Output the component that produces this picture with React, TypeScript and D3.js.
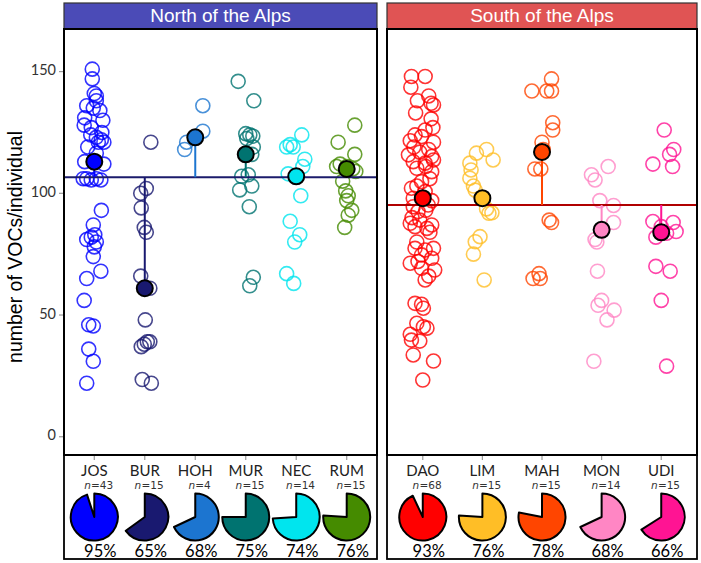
import React from 'react';
import * as d3 from 'd3';

// categories, colours and summary values
const northCats = ['JOS', 'BUR', 'HOH', 'MUR', 'NEC', 'RUM'];
const northColors = ['#0000FF', '#191970', '#1C75D0', '#007370', '#00E5EE', '#458B00'];
const northN = [43, 15, 4, 15, 14, 15];
const northPct = [95, 65, 68, 75, 74, 76];
const northMeans = [113, 61, 123, 116, 107, 110];
const northRef = 106.6;

const southCats = ['DAO', 'LIM', 'MAH', 'MON', 'UDI'];
const southColors = ['#FF0000', '#FFBE26', '#FF4500', '#FF86C4', '#FF1493'];
const southN = [68, 15, 15, 14, 15];
const southPct = [93, 76, 78, 68, 66];
const southMeans = [98, 98, 117, 85, 84];
const southRef = 95.2;

// individual values as [VOCs, jitter (fraction of category step)]
const josPts: [number, number][] = [
  [151, -0.04], [147, -0.04], [141, 0], [140, 0.04], [138, 0.04], [136, -0.15], [134, 0.11],
  [135, -0.02], [130, 0.17], [131, -0.19], [128, -0.2], [127, -0.06], [125, 0.15], [124, -0.07],
  [123, 0.04], [122, 0.14], [121, 0.19], [121, 0.08], [119, -0.13], [116.5, 0.04], [113, -0.19],
  [112, 0.19], [106, -0.22], [106, -0.15], [105.5, -0.06], [106, 0.04], [105.5, 0.13], [93, 0.14],
  [87, -0.02], [83, 0.01], [81, -0.15], [82, -0.06], [80, 0.04], [78, 0], [74, -0.02], [68, 0.13],
  [65, -0.15], [56, -0.2], [46, -0.11], [45.5, -0.02], [36, -0.11], [31, -0.02], [22, -0.15],
];
const burPts: [number, number][] = [
  [121, 0.12], [102, 0.03], [100, -0.08], [94, -0.07], [86, -0.01], [84, 0.03], [66, -0.08],
  [61, 0.1], [48, 0.01], [37, -0.07], [39, 0.05], [39, 0.1], [38, -0.01], [23.5, -0.05], [22, 0.13],
];
const hohPts: [number, number][] = [[136, 0.15], [125.5, 0.15], [121, -0.17], [118, -0.21]];
const murPts: [number, number][] = [
  [146, -0.15], [138, 0.16], [124.5, 0], [124, 0.08], [123.5, 0.14], [122.5, 0.02], [119, 0.15],
  [116, 0.12], [107, -0.08], [107.6, 0.05], [101.4, -0.12], [103, 0.12], [94.5, 0.07], [65.5, 0.15], [62, 0.08],
];
const necPts: [number, number][] = [
  [124, 0.11], [119, -0.19], [119, -0.06], [120, -0.12], [114, 0.17], [111, 0.13], [108, -0.16],
  [107, 0], [99, 0.09], [88.5, -0.12], [83, 0.07], [80, -0.03], [67, -0.19], [63, -0.05],
];
const rumPts: [number, number][] = [
  [128, 0.16], [121, -0.17], [116, 0.16], [112, -0.13], [111, -0.2], [110, 0.12], [109, 0.18],
  [111, 0], [105, -0.08], [101, -0.02], [99, 0.03], [97, 0], [93, 0.1], [91, 0.03], [86, -0.04],
];
const daoPts: [number, number][] = [
  [148, -0.19], [148, 0.04], [143.6, -0.2], [140, 0.1], [138, -0.09], [137, 0.14], [136.3, 0.18],
  [133, -0.12], [130.6, 0.14], [127, 0.17], [126, 0.04], [124, -0.13], [121.6, -0.21], [123.3, -0.02],
  [121, 0.18], [119, -0.15], [118, 0.1], [115.8, -0.24], [116.9, -0.05], [115.1, 0.15], [113.7, 0.18],
  [113, -0.16], [112.4, 0.04], [111, 0.05], [110.3, -0.1], [108.9, 0.15], [106, 0.12], [104.8, -0.02],
  [103, -0.1], [102.1, -0.19], [100.7, 0.04], [98, -0.16], [97, 0.15], [94.5, -0.16], [95.2, 0.09],
  [93, 0.05], [92.5, -0.08], [90, -0.18], [87.7, -0.21], [89, -0.05], [87, 0.15], [85.6, 0.07],
  [86.3, -0.13], [84, 0.12], [80, -0.1], [77.4, -0.13], [76.7, 0.04], [77.4, 0.18], [74.7, -0.02],
  [73.3, 0.15], [72, -0.08], [71.3, -0.21], [69.2, -0.02], [68.5, 0.2], [66, 0.1], [64.4, 0.04],
  [54.8, -0.13], [54.4, -0.02], [52.8, 0.01], [46.6, -0.1], [45.2, 0.01], [44.6, 0.07], [42.1, -0.21],
  [39.7, -0.19], [39.3, -0.05], [33.6, -0.16], [31.1, 0.18], [23.3, 0],
];
const limPts: [number, number][] = [
  [118, 0.07], [116.5, -0.1], [113.7, 0.18], [112.4, -0.21], [109.6, -0.19], [106.2, -0.21],
  [103, -0.15], [101.3, -0.12], [93.6, 0.07], [92, 0.16], [91.8, 0.11], [82.2, -0.04], [80.1, -0.12],
  [75, -0.15], [64.4, 0.03],
];
const mahPts: [number, number][] = [
  [147, 0.16], [142, -0.17], [142, 0.08], [142, 0.16], [129, 0.18], [126, 0.18], [121, 0], [118, 0.02],
  [110, -0.12], [110, -0.02], [89, 0.12], [88, 0.16], [67, -0.05], [65, -0.15], [65, -0.03],
];
const monPts: [number, number][] = [
  [111, 0.11], [107.6, -0.17], [105.5, -0.11], [97, -0.03], [95, 0.2], [88, 0.2], [81, -0.11],
  [80, -0.08], [68, -0.07], [56, 0], [54, -0.06], [52, 0.21], [48, 0.09], [31, -0.13],
];
const udiPts: [number, number][] = [
  [126, 0.05], [118, 0.21], [116, 0.14], [112, -0.14], [111, 0.19], [88.4, -0.14], [88, 0.2],
  [86.3, 0], [83.6, 0.09], [84.3, 0.25], [82, -0.09], [70, -0.09], [68, 0.15], [56, 0], [29, 0.09],
];

const northPts = [josPts, burPts, hohPts, murPts, necPts, rumPts];
const southPts = [daoPts, limPts, mahPts, monPts, udiPts];
const yTicks = [0, 50, 100, 150];

const W = 701;
const H = 563;
const headerTop = 3;
const plotTop = 29;
const plotBottom = 455;
const stripBottom = 559;
const axisFont = 'Lato, "Open Sans", sans-serif';
const smallFont = '"DejaVu Sans", sans-serif';
const titleFont = '"Liberation Sans", Arial, sans-serif';

const y = d3.scaleLinear().domain([-7.5, 167.5]).range([plotBottom, plotTop]);

interface PanelProps {
  x0: number;
  x1: number;
  title: string;
  headerFill: string;
  cats: string[];
  colors: string[];
  pts: [number, number][][];
  means: number[];
  refVal: number;
  refColor: string;
  ns: number[];
  pcts: number[];
}

const Panel: React.FC<PanelProps> = ({
  x0, x1, title, headerFill, cats, colors, pts, means, refVal, refColor, ns, pcts,
}) => {
  const x = d3.scalePoint<string>().domain(cats).range([x0, x1]).padding(0.6);
  const step = x.step();
  const pieR = 23.5;
  const pieY = 517;
  const arc = d3.arc<any>().innerRadius(0).outerRadius(pieR);

  return (
    <g>
      {/* header strip */}
      <rect x={x0} y={headerTop} width={x1 - x0} height={plotTop - headerTop}
        fill={headerFill} stroke="#333" strokeWidth={1.2} />
      <text x={(x0 + x1) / 2} y={(headerTop + plotTop) / 2 + 1} fill="#fff" fontSize={19}
        fontFamily={titleFont} textAnchor="middle" dominantBaseline="middle">{title}</text>

      {/* raw points */}
      {pts.map((arr, i) =>
        arr.map(([v, j], k) => (
          <circle key={`${i}-${k}`} cx={x(cats[i])! + j * step} cy={y(v)} r={7}
            fill="none" stroke={colors[i]} strokeOpacity={0.8} strokeWidth={1.6} />
        ))
      )}

      {/* reference line */}
      <line x1={x0} x2={x1} y1={y(refVal)} y2={y(refVal)} stroke={refColor} strokeWidth={2} />

      {/* mean segments and dots */}
      {means.map((m, i) => (
        <g key={cats[i]}>
          <line x1={x(cats[i])} x2={x(cats[i])} y1={y(refVal)} y2={y(m)}
            stroke={colors[i]} strokeWidth={2} />
          <circle cx={x(cats[i])} cy={y(m)} r={8} fill={colors[i]} stroke="#000" strokeWidth={2} />
        </g>
      ))}

      <rect x={x0} y={plotTop} width={x1 - x0} height={plotBottom - plotTop}
        fill="none" stroke="#000" strokeWidth={2} />

      {/* bottom strip with labels and pies */}
      <rect x={x0} y={plotBottom} width={x1 - x0} height={stripBottom - plotBottom}
        fill="none" stroke="#000" strokeWidth={1.8} />
      {cats.map((c, i) => {
        const cx = x(c)!;
        const a = (2 * Math.PI * pcts[i]) / 100;
        const nLabel = `=${ns[i]}`;
        const nW = nLabel.length * 6.6 + 6.5;
        const nStart = cx + 3 - nW / 2;
        return (
          <g key={c}>
            <line x1={cx} x2={cx} y1={plotBottom + 1} y2={plotBottom + 5} stroke="#999" strokeWidth={1.2} />
            <text x={cx} y={475.5} fontSize={15} fontFamily={axisFont} fill="#222"
              textAnchor="middle">{c}</text>
            <text x={nStart} y={488.5} fontSize={10.5} fontFamily={smallFont} fill="#333"
              fontStyle="italic">n</text>
            <text x={nStart + 6.8} y={488.5} fontSize={10.5} fontFamily={smallFont} fill="#333">{nLabel}</text>
            <path transform={`translate(${cx},${pieY})`}
              d={arc({ startAngle: 0, endAngle: a })!}
              fill={colors[i]} stroke="#000" strokeWidth={2} strokeLinejoin="round" />
            <text x={cx + 6} y={557} fontSize={16.5} fontFamily={axisFont} fill="#000"
              textAnchor="middle">{pcts[i]}%</text>
          </g>
        );
      })}
    </g>
  );
};

export default function App() {
  const axisX = 64;
  return (
    <svg width={W} height={H} style={{ position: 'absolute', left: 0, top: 0, background: '#fff' }}>
      <rect width={W} height={H} fill="#fff" />
      {/* y axis */}
      {yTicks.map((t) => (
        <g key={t}>
          <line x1={axisX - 5} x2={axisX - 1} y1={y(t)} y2={y(t)} stroke="#999" strokeWidth={1.2} />
          <text x={axisX - 8} y={y(t)} fontSize={14.5} fontFamily={axisFont} fill="#333"
            textAnchor="end" dominantBaseline="middle">{t}</text>
        </g>
      ))}
      <text transform={`translate(17,247) rotate(-90)`}
        fontSize={19.5} fontFamily={titleFont} fill="#000" textAnchor="middle"
        dominantBaseline="middle">number of VOCs/individual</text>

      <Panel x0={64} x1={377} title="North of the Alps" headerFill="#4B4BB7"
        cats={northCats} colors={northColors} pts={northPts} means={northMeans}
        refVal={northRef} refColor="#1B1B6B" ns={northN} pcts={northPct} />
      <Panel x0={387} x1={697} title="South of the Alps" headerFill="#E05454"
        cats={southCats} colors={southColors} pts={southPts} means={southMeans}
        refVal={southRef} refColor="#B00000" ns={southN} pcts={southPct} />
    </svg>
  );
}
